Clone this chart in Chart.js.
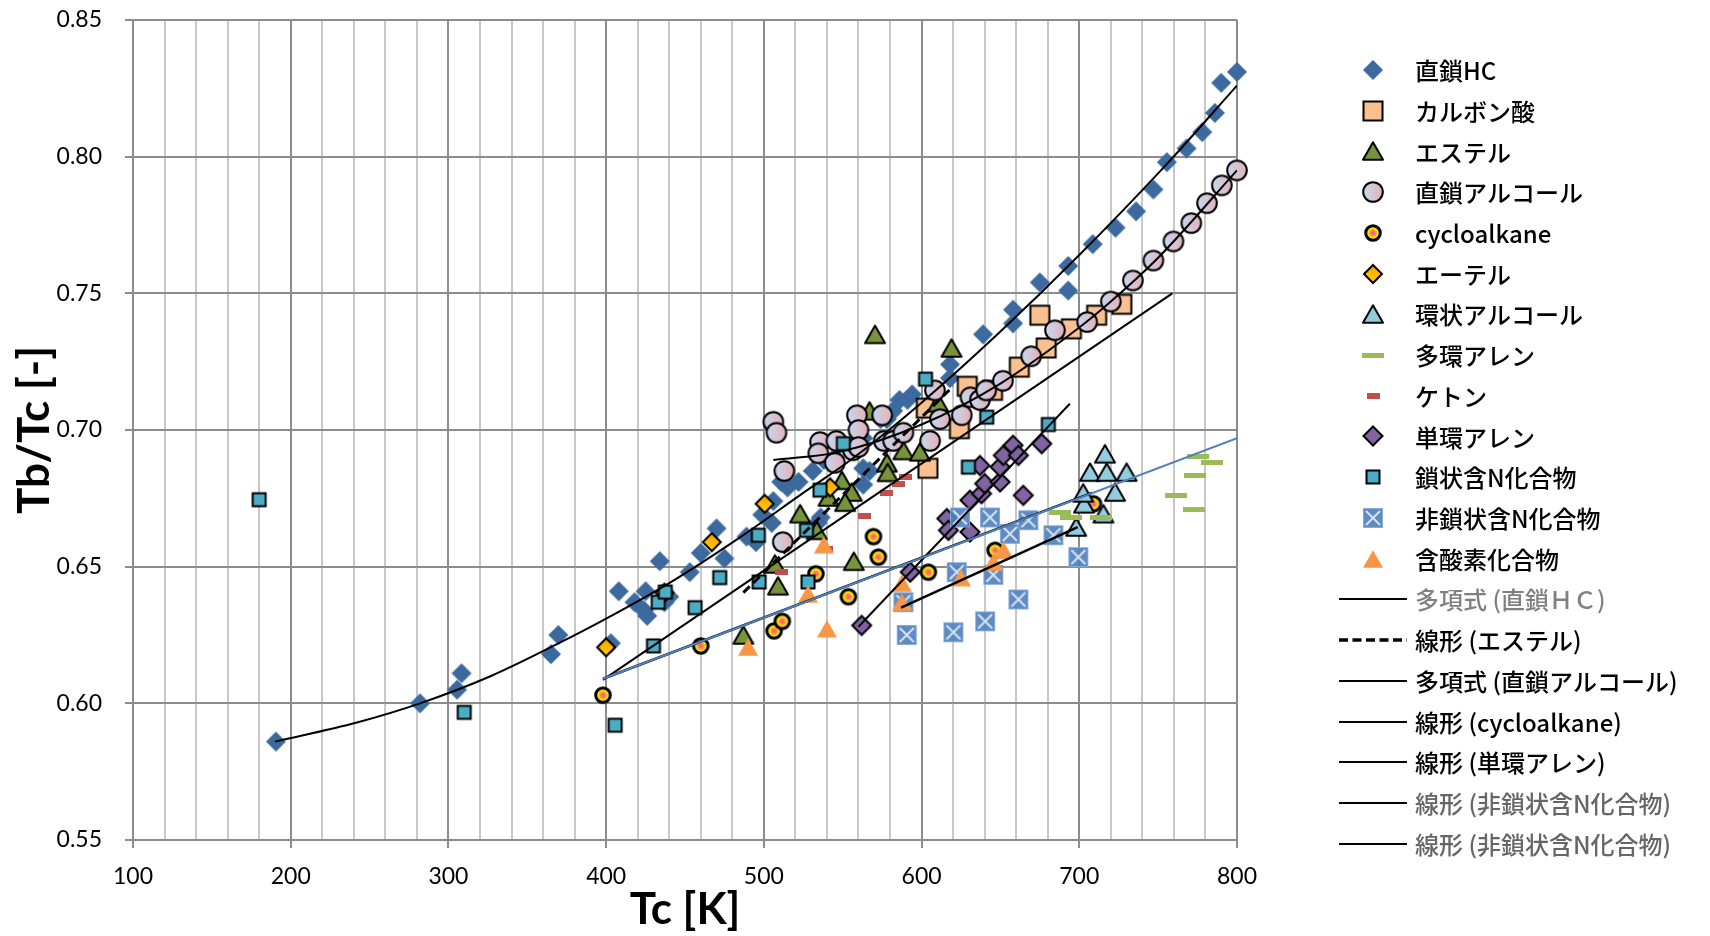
<!DOCTYPE html>
<html>
<head>
<meta charset="utf-8">
<script src="https://cdn.jsdelivr.net/npm/chart.js@4.4.1/dist/chart.umd.min.js"></script>
<style>
  html, body { margin: 0; padding: 0; background: #fff; }
  #wrap { width: 1710px; height: 936px; }
</style>
</head>
<body>
<div id="wrap"><canvas id="chart" width="1710" height="936"></canvas></div>
<script>
// [Tc, Tb/Tc]
const chainHC = [[190.6,0.586],[282,0.600],[305.5,0.605],[308.3,0.611],[365,0.618],[369.7,0.625],[403,0.622],[408,0.641],[418,0.637],[425,0.641],[424,0.634],[426,0.632],[434,0.652],[437,0.637],[440,0.639],[453,0.648],[460,0.655],[470,0.664],[475,0.653],[489,0.661],[495,0.659],[499,0.669],[506,0.674],[505,0.666],[511,0.681],[515,0.679],[522,0.681],[531,0.685],[534,0.666],[536,0.668],[538,0.689],[545,0.690],[552,0.694],[557,0.695],[563,0.697],[563,0.686],[563,0.680],[567,0.685],[574,0.704],[578,0.704],[582,0.707],[586,0.711],[591,0.711],[594,0.713],[618,0.719],[618,0.724],[639,0.735],[658,0.739],[658,0.744],[675,0.754],[693,0.751],[693,0.760],[708.5,0.768],[723,0.774],[736,0.780],[747,0.788],[755.5,0.798],[768,0.803],[778,0.809],[786,0.816],[790,0.827],[800,0.831]];
const carboxylic = [[603,0.708],[604,0.686],[624,0.7005],[629,0.716],[645,0.7145],[662,0.723],[679,0.730],[675,0.742],[695,0.737],[711,0.742],[727,0.746]];
const ester = [[570.5,0.735],[619,0.730],[610.5,0.710],[567,0.707],[588.5,0.6925],[599,0.692],[578,0.688],[578.5,0.6845],[549.5,0.6816],[555.7,0.6773],[541,0.6755],[551.5,0.6736],[523,0.6694],[533.5,0.6633],[507,0.651],[509,0.643],[557,0.652],[487,0.625]];
const chainAlcohol = [[506,0.703],[508,0.699],[513,0.685],[512,0.659],[535.6,0.6956],[534.5,0.6915],[546,0.696],[545,0.688],[559,0.7054],[560,0.700],[556.5,0.6926],[560,0.6938],[575,0.7054],[576,0.696],[582,0.696],[588.5,0.699],[605.4,0.696],[608.5,0.7145],[611.7,0.704],[625.5,0.7054],[631,0.712],[637,0.711],[641,0.7145],[651.6,0.718],[669.5,0.727],[684.6,0.7365],[705,0.7395],[720,0.747],[734,0.7547],[747,0.762],[759.7,0.769],[771,0.7757],[781,0.783],[790.4,0.7895],[800,0.795]];
const cycloalkane = [[398,0.603],[460,0.621],[506.5,0.6265],[511.7,0.630],[533,0.6474],[553.6,0.639],[569.5,0.661],[572.6,0.6535],[604.3,0.648],[646.6,0.656],[709,0.673]];
const ether = [[400,0.6205],[437,0.6405],[467,0.659],[500.5,0.673],[542,0.679]];
const cyclicAlcohol = [[698,0.6645],[703,0.673],[702.5,0.677],[706.8,0.6846],[715.3,0.6694],[716.3,0.6913],[717.4,0.6846],[722.7,0.6773],[730,0.6846]];
const polyArene = [[688,0.670],[695,0.668],[714,0.668],[761.5,0.676],[772.5,0.671],[773.5,0.6834],[775.5,0.6904],[784,0.688]];
const ketone = [[511.3,0.648],[540,0.6566],[564,0.6684],[578,0.677],[585.3,0.6804],[589.5,0.6828]];
const monoArene = [[562,0.6285],[592.8,0.648],[616,0.6676],[617,0.6633],[630.7,0.6627],[630.7,0.6743],[638,0.6767],[640,0.6804],[637,0.687],[649.8,0.681],[649.8,0.6865],[651.8,0.6907],[658,0.6944],[661.4,0.6907],[664.5,0.6761],[676.2,0.695]];
const chainN = [[180,0.6745],[310,0.5967],[405.7,0.592],[430,0.621],[433,0.637],[437.5,0.6407],[456.4,0.635],[472,0.646],[496.5,0.6615],[497,0.6444],[527,0.6633],[528,0.6444],[535.6,0.678],[550.4,0.695],[602.5,0.7186],[629.7,0.6864],[641.3,0.7047],[680.4,0.702]];
const nonChainN = [[588.5,0.637],[590.6,0.625],[620.2,0.626],[622.3,0.648],[624.4,0.668],[640.3,0.630],[643.4,0.668],[645.5,0.647],[656,0.662],[661.4,0.638],[667.7,0.667],[683.6,0.6615],[699.4,0.6535]];
const oxygenated = [[490,0.6206],[528,0.640],[538,0.658],[540,0.6273],[587.5,0.644],[587.5,0.637],[625,0.646],[645.5,0.6517],[652,0.656]];

// trend lines, points
const hcPolyLine = [[190,0.586],[242,0.593],[282,0.600],[327,0.610],[370,0.622],[400,0.631],[440,0.644],[483,0.660],[525,0.677],[555,0.689],[600,0.710],[650,0.736],[700,0.764],[755,0.797],[800,0.826]];
const esterLine = [[487,0.6405],[620,0.716]];
const alcoholPolyLine = [[506,0.689],[548,0.692],[600,0.702],[650,0.717],[700,0.7375],[720,0.747],[750,0.763],[800,0.795]];
const cycloLine = [[398,0.609],[708,0.677]];
const cycloBlueLine = [[398,0.609],[800,0.697]];
const monoAreneLine = [[560,0.628],[694,0.7096]];
const nonChainNLine1 = [[398,0.6086],[759,0.750]];
const nonChainNLine2 = [[587,0.635],[699,0.6645]];

const xTicks = [100, 200, 300, 400, 500, 600, 700, 800];

function icon(w, h, draw) {
  const c = document.createElement('canvas');
  c.width = w; c.height = h;
  const g = c.getContext('2d');
  draw(g, w / 2, h / 2);
  return c;
}
function diamondPath(g, cx, cy, r) {
  g.beginPath();
  g.moveTo(cx, cy - r); g.lineTo(cx + r, cy); g.lineTo(cx, cy + r); g.lineTo(cx - r, cy);
  g.closePath();
}
function trianglePath(g, cx, cy, s) {
  const h = s * 0.866;
  g.beginPath();
  g.moveTo(cx, cy - h / 2); g.lineTo(cx + s / 2, cy + h / 2); g.lineTo(cx - s / 2, cy + h / 2);
  g.closePath();
}

const mHC = icon(22, 22, (g, x, y) => { diamondPath(g, x, y, 10); g.fillStyle = '#3D6A9E'; g.fill(); });
const mAcid = icon(24, 24, (g, x, y) => {
  g.beginPath(); g.rect(x - 9.5, y - 9.5, 19, 19);
  g.fillStyle = '#FAC090'; g.fill(); g.lineWidth = 2; g.strokeStyle = '#000'; g.stroke();
});
function tri(fill, stroke) {
  return icon(26, 24, (g, x, y) => {
    trianglePath(g, x, y, 20);
    g.fillStyle = fill; g.fill();
    if (stroke) { g.lineJoin = 'round'; g.lineWidth = 2; g.strokeStyle = '#000'; g.stroke(); }
  });
}
const mEster = tri('#77933C', true);
const mAlcohol = icon(24, 24, (g, x, y) => {
  const gr = g.createLinearGradient(x - 10, 0, x + 10, 0);
  gr.addColorStop(0, '#C6D9F1'); gr.addColorStop(1, '#E6B0B8');
  g.beginPath(); g.arc(x, y, 9.8, 0, Math.PI * 2);
  g.fillStyle = gr; g.fill(); g.lineWidth = 2; g.strokeStyle = '#000'; g.stroke();
});
const mCyclo = icon(20, 20, (g, x, y) => {
  const gr = g.createRadialGradient(x, y, 0, x, y, 6.5);
  gr.addColorStop(0, '#FF4F7E'); gr.addColorStop(0.35, '#FF7F60'); gr.addColorStop(0.7, '#FFE000'); gr.addColorStop(1, '#FFFF00');
  g.beginPath(); g.arc(x, y, 7.3, 0, Math.PI * 2);
  g.fillStyle = gr; g.fill(); g.lineWidth = 3; g.strokeStyle = '#000'; g.stroke();
});
const mEther = icon(22, 22, (g, x, y) => {
  const gr = g.createLinearGradient(0, y - 9, 0, y + 9);
  gr.addColorStop(0, '#FF9E00'); gr.addColorStop(1, '#FFD200');
  diamondPath(g, x, y, 9);
  g.fillStyle = gr; g.fill(); g.lineWidth = 2; g.strokeStyle = '#000'; g.stroke();
});
const mCycAlc = tri('#93CDDD', true);
const mPolyArene = icon(22, 5, (g) => { g.fillStyle = '#9BBB59'; g.fillRect(0, 0, 22, 5); });
const mKetone = icon(13, 6, (g) => { g.fillStyle = '#C0504D'; g.fillRect(0, 0, 13, 6); });
const mMonoArene = icon(24, 24, (g, x, y) => {
  diamondPath(g, x, y, 9.5);
  g.fillStyle = '#8064A2'; g.fill(); g.lineWidth = 2; g.strokeStyle = '#000'; g.stroke();
});
const mChainN = icon(18, 18, (g, x, y) => {
  g.beginPath(); g.rect(x - 6.5, y - 6.5, 13, 13);
  g.fillStyle = '#4BACC6'; g.fill(); g.lineWidth = 2; g.strokeStyle = '#000'; g.stroke();
});
const mNonChainN = icon(22, 22, (g, x, y) => {
  g.fillStyle = 'rgba(79,129,189,0.92)'; g.fillRect(x - 10, y - 10, 20, 20);
  g.strokeStyle = 'rgba(140,175,220,0.9)'; g.lineWidth = 1; g.strokeRect(x - 9.5, y - 9.5, 19, 19);
  g.strokeStyle = 'rgba(255,255,255,0.75)'; g.lineWidth = 2;
  g.beginPath(); g.moveTo(x - 7, y - 7); g.lineTo(x + 7, y + 7); g.moveTo(x + 7, y - 7); g.lineTo(x - 7, y + 7); g.stroke();
});
const mOxygen = tri('#F79646', false);

function lineIcon(color, width, dash) {
  return icon(68, 8, (g, x, y) => {
    g.strokeStyle = color; g.lineWidth = width; g.setLineDash(dash || []);
    g.beginPath(); g.moveTo(0, y); g.lineTo(68, y); g.stroke();
  });
}

const series = [
  ['直鎖HC', chainHC, mHC],
  ['カルボン酸', carboxylic, mAcid],
  ['エステル', ester, mEster],
  ['直鎖アルコール', chainAlcohol, mAlcohol],
  ['cycloalkane', cycloalkane, mCyclo],
  ['エーテル', ether, mEther],
  ['環状アルコール', cyclicAlcohol, mCycAlc],
  ['多環アレン', polyArene, mPolyArene],
  ['ケトン', ketone, mKetone],
  ['単環アレン', monoArene, mMonoArene],
  ['鎖状含N化合物', chainN, mChainN],
  ['非鎖状含N化合物', nonChainN, mNonChainN],
  ['含酸素化合物', oxygenated, mOxygen],
];

const toXY = arr => arr.map(p => ({x: p[0], y: p[1]}));

const datasets = series.map((s, i) => ({
  label: s[0],
  data: toXY(s[1]),
  pointStyle: s[2],
  pointRadius: 10,
  clip: false,
  order: 100 - i,
  legendIcon: s[2],
  legendColor: '#000',
}));

const trends = [
  {label: '多項式 (直鎖ＨＣ)', data: hcPolyLine, width: 2, curve: true, legendColor: '#808080'},
  {label: '線形 (エステル)', data: esterLine, width: 3, dash: [9, 5]},
  {label: '多項式 (直鎖アルコール)', data: alcoholPolyLine, width: 2, curve: true},
  {label: '線形 (cycloalkane)', data: cycloLine, width: 2.5},
  {label: '線形 (単環アレン)', data: monoAreneLine, width: 2},
  {label: '線形 (非鎖状含N化合物)', data: nonChainNLine1, width: 2, legendColor: '#666'},
  {label: '線形 (非鎖状含N化合物)', data: nonChainNLine2, width: 2.5, legendColor: '#666'},
];
trends.forEach((t, j) => {
  datasets.push({
    label: t.label,
    data: toXY(t.data),
    showLine: true,
    pointRadius: 0,
    borderColor: '#000',
    borderWidth: t.width,
    borderDash: t.dash || [],
    cubicInterpolationMode: t.curve ? 'monotone' : 'default',
    order: -1 - j,
    legendIcon: lineIcon('#000', t.dash ? 3.5 : 2, t.dash ? [9, 4.5] : null),
    legendColor: t.legendColor || '#000',
  });
});
datasets.push({
  label: '',
  data: toXY(cycloBlueLine),
  showLine: true,
  pointRadius: 0,
  borderColor: '#4F81BD',
  borderWidth: 2,
  order: -20,
  noLegend: true,
});

const sideLegend = {
  id: 'sideLegend',
  afterDraw(chart) {
    const g = chart.ctx;
    g.save();
    g.font = '500 24px "Noto Sans CJK JP", sans-serif';
    g.textBaseline = 'middle';
    g.textAlign = 'left';
    let i = 0;
    chart.data.datasets.forEach(ds => {
      if (ds.noLegend) return;
      const y = 70 + i * 40.72;
      const ic = ds.legendIcon;
      g.drawImage(ic, Math.round(1373 - ic.width / 2), Math.round(y - ic.height / 2));
      g.fillStyle = ds.legendColor;
      g.fillText(ds.label, 1415, y + 1);
      i++;
    });
    g.restore();
  }
};

const major = '#8c8c8c', minor = '#c8c8c8';

new Chart(document.getElementById('chart'), {
  type: 'scatter',
  data: {datasets},
  plugins: [sideLegend],
  options: {
    responsive: false,
    animation: false,
    events: [],
    layout: {padding: {top: 20, right: 473, bottom: 0, left: 0}},
    plugins: {legend: {display: false}, tooltip: {enabled: false}},
    scales: {
      x: {
        type: 'linear',
        min: 100, max: 800,
        afterFit: s => { s.height = 96; s.paddingLeft = 0; s.paddingRight = 0; },
        ticks: {
          stepSize: 20,
          autoSkip: false,
          maxRotation: 0,
          padding: 15,
          color: '#000',
          font: {family: 'Lato', size: 23},
          callback: v => xTicks.includes(v) ? String(v) : '',
        },
        grid: {
          lineWidth: 2,
          tickLength: 8,
          color: c => (c.tick && c.tick.value % 100 === 0) ? major : minor,
          tickColor: c => (c.tick && c.tick.value % 100 === 0) ? major : 'rgba(0,0,0,0)',
        },
        border: {color: major, width: 2},
        title: {
          display: true, text: 'Tc [K]', color: '#000',
          font: {family: 'Lato', size: 44, weight: 'bold', lineHeight: 1},
          padding: {top: 0, bottom: 4},
        },
      },
      y: {
        min: 0.55, max: 0.85,
        afterFit: s => { s.width = 133; s.paddingTop = 0; s.paddingBottom = 0; },
        ticks: {
          stepSize: 0.05,
          padding: 23,
          color: '#000',
          font: {family: 'Lato', size: 23},
          callback: v => Number(v).toFixed(2),
        },
        grid: {lineWidth: 2, tickLength: 8, color: major, tickColor: major},
        border: {color: major, width: 2},
        title: {
          display: true, text: 'Tb/Tc [-]', color: '#000',
          font: {family: 'Lato', size: 44, weight: 'bold', lineHeight: 1},
          padding: {top: 13, bottom: 0},
        },
      },
    },
  },
});
</script>
</body>
</html>
